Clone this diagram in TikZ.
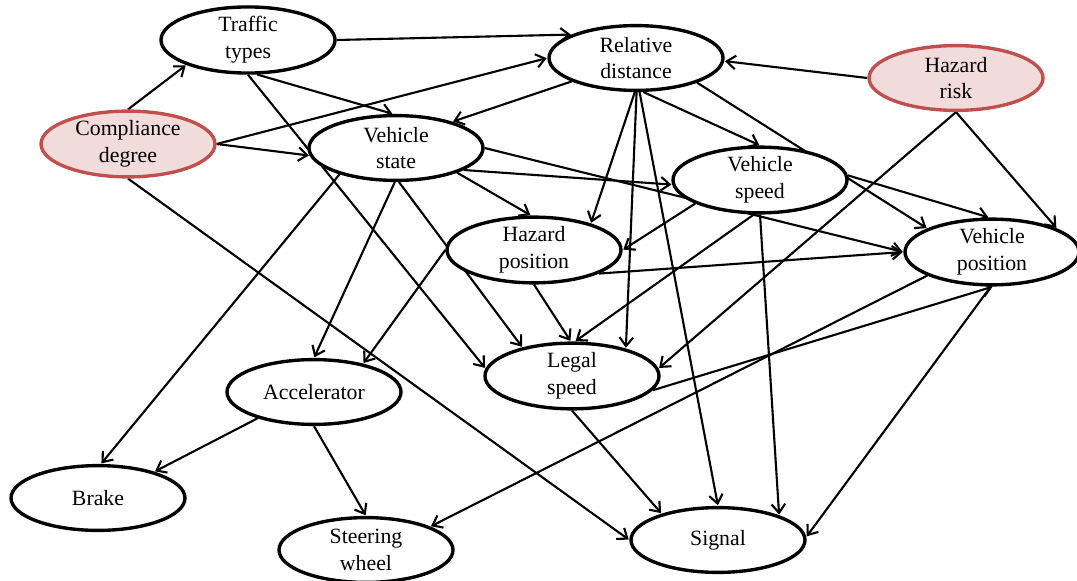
\documentclass[tikz,border=0pt]{standalone}
\usepackage{fontspec}
\setmainfont{Liberation Serif}
\usepackage{tikz}
\usetikzlibrary{positioning, arrows.meta, shapes}
\pgfdeclarelayer{bg}
\pgfsetlayers{bg,main}
\definecolor{riskfill}{HTML}{F2DCDB}
\definecolor{riskline}{HTML}{C0504D}

\begin{document}
\begin{tikzpicture}[>={Straight Barb[length=2.2mm,width=3.4mm]}, shorten >=0.5pt, on grid,
	var/.style={ellipse, draw, line width=2.4pt, fill=white, minimum width=4.35cm, minimum height=1.62cm, inner sep=0pt, align=center, font=\fontsize{15.5}{19}\selectfont},
	risk/.style={var, draw=riskline, fill=riskfill},
	link/.style={->, line width=1.5pt} ]
	\useasboundingbox (0,0) rectangle (26.925,-14.525);
			\node[risk]		(CD) at (3.2,-3.6)						{Compliance\\degree};
			\node[var]		(TT) [above right=2.6cm and 3.0cm of CD]	{Traffic\\types};
			\node[var]		(VS) [below right=0.1cm and 6.7cm of CD]	{Vehicle\\state};
			\node[var]		(RD) [below right=0.45cm and 9.7cm of TT]	{Relative\\distance};
			\node[risk]		(HR) [below right=0.5cm and 8.0cm of RD]	{Hazard\\risk};
			\node[var]		(VSp) [below right=0.8cm and 9.1cm of VS]	{Vehicle\\speed};
			\node[var]		(HP) [below right=2.55cm and 3.45cm of VS]	{Hazard\\position};
			\node[var]		(VP) [below right=4.35cm and 0.9cm of HR]	{Vehicle\\position};
			\node[var]		(LS) [below right=3.15cm and 0.95cm of HP]	{Legal\\speed};
			\node[var]		(Acc) [below left=3.55cm and 5.5cm of HP]	{Accelerator};
			\node[var]		(Br) [below left=2.65cm and 5.4cm of Acc]	{Brake};
			\node[var]		(SW) [below right=3.95cm and 1.3cm of Acc]	{Steering\\wheel};
			\node[var]		(Sig) [below right=4.1cm and 3.65cm of LS]	{Signal};

	\begin{pgfonlayer}{bg}
			\path[link]
			%Compliance degree
			(CD.north) edge (TT.-158)
			(CD.east) edge (RD.west)
			(CD.east) edge (VS.185)
			(CD.south) edge (Sig.west)
			%Traffic types
			(TT.east) edge (RD.160)
			(TT.-75) edge (VS.95)
			(TT.-90) edge (LS.175)
			%Relative distance
			(RD.-160) edge (VS.25)
			(RD.-92) edge (HP.25)
			(RD.-89) edge (LS.27)
			(RD.-84) edge (Sig.north)
			(RD.-78) edge (VSp.north)
			(RD.-22) edge (VP.160)
			%Hazard risk
			(HR.west) edge (RD.-2)
			(HR.south) edge (VP.20)
			(HR.south) edge (LS.5)
			%Vehicle state
			(VS.-155) edge (Br.85)
			(VS.-92) edge (Acc.north)
			(VS.-85) edge (LS.150)
			(VS.-22) edge (HP.95)
			(VS.-18) edge (VSp.183)
			(VS.east) edge (VP.west)
			%Vehicle speed
			(VSp.-160) edge (HP.east)
			(VSp.-100) edge (LS.85)
			(VSp.-90) edge (Sig.22)
			(VSp.3) edge (VP.95)
			%Hazard position
			(HP.south) edge (LS.92)
			(HP.west) edge (Acc.30)
			(HP.-20) edge (VP.west)
			%Legal speed
			(LS.south) edge (Sig.155)
			(LS.-10) edge (VP.-88)
			%Vehicle position
			(VP.-160) edge (SW.20)
			(VP.-92) edge (Sig.2)
			%Accelerator
			(Acc.-155) edge (Br.25)
			(Acc.south) edge (SW.north);
	\end{pgfonlayer}
\end{tikzpicture}
\end{document}
